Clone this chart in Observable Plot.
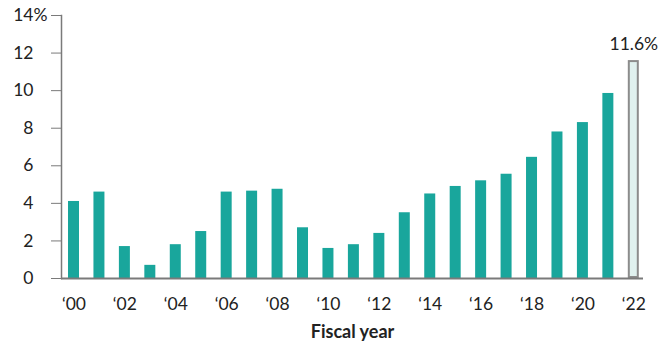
<!DOCTYPE html>
<html>
<head>
<meta charset="utf-8">
<script src="https://cdn.jsdelivr.net/npm/d3@7"></script>
<script src="https://cdn.jsdelivr.net/npm/@observablehq/plot@0.6"></script>
<style>
  html, body { margin: 0; padding: 0; background: #fff; }
</style>
</head>
<body>
<div id="chart"></div>
<script>
const years = [2000, 2001, 2002, 2003, 2004, 2005, 2006, 2007, 2008, 2009, 2010, 2011,
               2012, 2013, 2014, 2015, 2016, 2017, 2018, 2019, 2020, 2021, 2022];
const values = [4.1, 4.6, 1.7, 0.7, 1.8, 2.5, 4.6, 4.65, 4.75, 2.7, 1.6, 1.8,
                2.4, 3.5, 4.5, 4.9, 5.2, 5.55, 6.45, 7.8, 8.3, 9.85, 11.6];
const projectedYears = [2022];
const xTickYears = [2000, 2002, 2004, 2006, 2008, 2010, 2012, 2014, 2016, 2018, 2020, 2022];
const yTicks = [0, 2, 4, 6, 8, 10, 12, 14];

const data = years.map((year, i) => ({year, value: values[i], projected: projectedYears.includes(year)}));
const actual = data.filter(d => !d.projected);
const projected = data.filter(d => d.projected);

const teal = "#19A69C";
const axisGray = "#7a7a7a";
const textColor = "#222";

const chart = Plot.plot({
  width: 669,
  height: 343,
  marginTop: 15,
  marginBottom: 65,
  marginLeft: 61,
  marginRight: 26,
  style: {fontFamily: "Lato, 'Open Sans', sans-serif", fontSize: "17px", color: textColor, background: "#fff", overflow: "visible"},
  x: {type: "band", domain: years, range: [61, 645.8], paddingInner: 0.568, paddingOuter: 0.275, round: false, label: null},
  y: {domain: [0, 14], label: null},
  marks: [
    Plot.barY(actual, {x: "year", y: "value", fill: teal}),
    Plot.barY(projected, {x: "year", y: "value", fill: "#E0F1EF", stroke: "#8c8c8c", strokeWidth: 2, inset: 1}),
    Plot.frame({anchor: "left", stroke: axisGray, strokeWidth: 1.5}),
    Plot.ruleY([0], {stroke: axisGray, strokeWidth: 2}),
    Plot.axisY({ticks: yTicks, tickSize: 10, tickPadding: 18, tickFormat: d => String(d), stroke: axisGray, fill: textColor, fontSize: 17.5, label: null}),
    Plot.text(["%"], {y: [14], frameAnchor: "left", dx: -28, textAnchor: "start", fill: textColor, fontSize: 17.5}),
    Plot.axisX({ticks: xTickYears, tickSize: 0, tickPadding: 19, tickFormat: d => "\u2018" + String(d).slice(2), fill: textColor, fontSize: 17.5, label: null}),
    Plot.text(projected, {x: "year", y: "value", text: d => d.value + "%", dy: -11, lineAnchor: "bottom", fill: textColor, fontSize: 17.5}),
    Plot.text(["Fiscal year"], {frameAnchor: "bottom", dy: 59, fontWeight: "bold", fontSize: 18, fill: textColor})
  ]
});
document.getElementById("chart").appendChild(chart);
</script>
</body>
</html>
